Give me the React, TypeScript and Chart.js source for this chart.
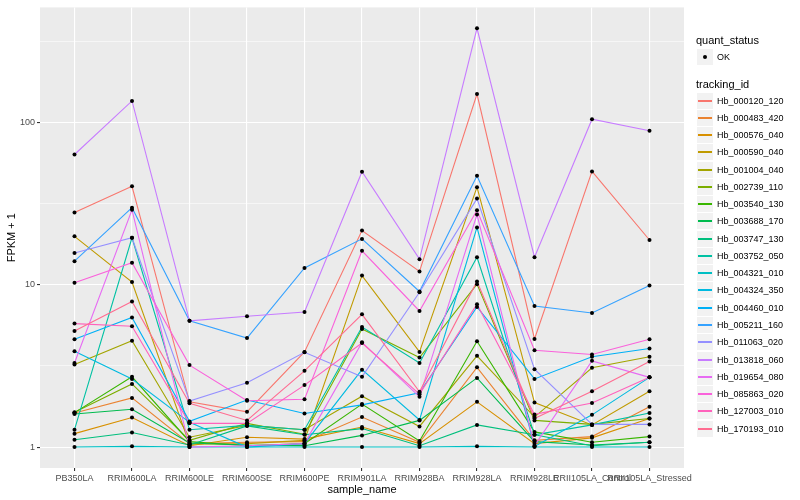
import React, { useEffect, useRef } from "react";
import { Chart, registerables } from "chart.js";

Chart.register(...registerables);

const categories = [
  "PB350LA", "RRIM600LA", "RRIM600LE", "RRIM600SE", "RRIM600PE", "RRIM901LA",
  "RRIM928BA", "RRIM928LA", "RRIM928LE", "RRII105LA_Control", "RRII105LA_Stressed",
];

const trackingIds = [
  "Hb_000120_120", "Hb_000483_420", "Hb_000576_040", "Hb_000590_040", "Hb_001004_040",
  "Hb_002739_110", "Hb_003540_130", "Hb_003688_170", "Hb_003747_130", "Hb_003752_050",
  "Hb_004321_010", "Hb_004324_350", "Hb_004460_010", "Hb_005211_160", "Hb_011063_020",
  "Hb_013818_060", "Hb_019654_080", "Hb_085863_020", "Hb_127003_010", "Hb_170193_010",
];

const lineColors = [
  "#F8766D", "#EA8331", "#D89000", "#C09B00", "#A3A500", "#7CAE00", "#39B600", "#00BB4E",
  "#00BF7D", "#00C1A3", "#00BFC4", "#00BAE0", "#00B0F6", "#35A2FF", "#9590FF", "#C77CFF",
  "#E76BF3", "#FA62DB", "#FF62BC", "#FF6C91",
];

// FPKM + 1 per sample, one array per tracking id
const hb000120_120 = [27.9, 40.5, 1.9, 1.65, 3.86, 21.6, 12.1, 150, 4.64, 50, 18.9];
const hb000483_420 = [1.62, 2.01, 1.05, 1.07, 1.08, 1.53, 1.07, 3.1, 1.1, 1.16, 1.77];
const hb000576_040 = [1.21, 1.52, 1.02, 1.15, 1.12, 1.33, 1.05, 1.9, 1.05, 1.14, 1.5];
const hb000590_040 = [19.9, 10.4, 1.04, 1.05, 1.1, 11.4, 3.86, 40, 1.88, 1.37, 2.21];
const hb001004_040 = [3.23, 4.53, 1.15, 1.36, 1.28, 2.06, 1.34, 3.65, 1.53, 3.08, 3.6];
const hb002739_110 = [1.64, 2.45, 1.1, 1.4, 1.2, 5.35, 3.56, 10.1, 1.46, 1.38, 1.5];
const hb003540_130 = [1.63, 2.71, 1.08, 1.02, 1.05, 1.84, 1.09, 4.49, 1.24, 1.07, 1.16];
const hb003688_170 = [1.6, 1.71, 1.06, 1.03, 1.02, 1.18, 1.46, 2.67, 1.08, 1.03, 1.07];
const hb003747_130 = [1.11, 1.23, 1.03, 1.35, 1.19, 1.3, 1.02, 1.37, 1.19, 1.02, 1.07];
const hb003752_050 = [1.28, 19.5, 1.28, 1.36, 1.28, 5.5, 3.3, 14.8, 1.19, 1.37, 1.62];
const hb004321_010 = [1.0, 1.01, 1.0, 1.0, 1.0, 1.0, 1.0, 1.01, 1.0, 1.0, 1.0];
const hb004324_350 = [3.9, 2.63, 1.42, 1.0, 1.05, 3.0, 1.47, 22.6, 1.01, 1.58, 2.69];
const hb004460_010 = [4.62, 6.3, 1.44, 1.95, 1.61, 1.82, 2.16, 7.3, 2.63, 3.6, 4.05];
const hb005211_160 = [14, 29.9, 6.0, 4.7, 12.7, 19.2, 9.1, 47, 7.4, 6.7, 9.9];
const hb011063_020 = [15.7, 19.5, 1.92, 2.49, 3.84, 2.71, 9.0, 34, 3.02, 1.38, 1.38];
const hb013818_060 = [63.6, 136, 6.0, 6.4, 6.8, 49.8, 14.4, 381, 14.8, 105, 89];
const hb019654_080 = [3.3, 29, 1.0, 1.02, 1.05, 4.42, 2.04, 27.1, 1.02, 3.4, 2.69];
const hb085863_020 = [10.3, 13.7, 3.2, 1.93, 1.97, 16.2, 6.9, 28.8, 3.95, 3.72, 4.62];
const hb127003_010 = [5.77, 5.55, 1.4, 1.4, 2.41, 4.38, 2.12, 7.6, 1.59, 1.87, 2.69];
const hb170193_010 = [5.2, 7.9, 1.86, 1.46, 2.95, 6.58, 2.19, 10.5, 1.5, 2.21, 3.37];

const seriesValues = [
  hb000120_120, hb000483_420, hb000576_040, hb000590_040, hb001004_040,
  hb002739_110, hb003540_130, hb003688_170, hb003747_130, hb003752_050,
  hb004321_010, hb004324_350, hb004460_010, hb005211_160, hb011063_020,
  hb013818_060, hb019654_080, hb085863_020, hb127003_010, hb170193_010,
];

const yMajorTicks = [1, 10, 100];
const yMinorTicks = [3.1623, 31.623, 316.23];
const yMin = 0.743;
const yMax = 513;

const FONT = "'Liberation Sans', Arial, Helvetica, sans-serif";

const panelBg = {
  id: "panelBg",
  beforeDraw(chart: any) {
    const { ctx, chartArea } = chart;
    ctx.save();
    ctx.fillStyle = "#EBEBEB";
    ctx.fillRect(chartArea.left, chartArea.top, chartArea.right - chartArea.left, chartArea.bottom - chartArea.top);
    ctx.restore();
  },
};

export default function App() {
  const ref = useRef<HTMLCanvasElement | null>(null);

  useEffect(() => {
    document.body.style.margin = "0";
    if (!ref.current) return;
    const lineSets = seriesValues.map((vals, i) => ({
      type: "line" as const,
      label: trackingIds[i],
      data: vals.map((v, j) => ({ x: j, y: v })),
      borderColor: lineColors[i],
      backgroundColor: lineColors[i],
      borderWidth: 1.1,
      pointRadius: 0,
      tension: 0,
      order: 100 - i,
    }));
    const pointSet = {
      type: "scatter" as const,
      label: "OK",
      data: seriesValues.flatMap((vals) => vals.map((v, j) => ({ x: j, y: v }))),
      backgroundColor: "#000000",
      borderColor: "#000000",
      borderWidth: 0,
      pointRadius: 2,
      showLine: false,
      order: 0,
    };
    const chart = new Chart(ref.current, {
      type: "line",
      data: { datasets: [...lineSets, pointSet] as any },
      plugins: [panelBg],
      options: {
        animation: false,
        responsive: false,
        devicePixelRatio: 1,
        layout: { padding: { top: 5, right: 116, left: 0, bottom: 0 } },
        plugins: { legend: { display: false }, tooltip: { enabled: false } },
        scales: {
          x: {
            type: "linear",
            min: -0.6,
            max: 10.6,
            bounds: "data",
            afterBuildTicks: (s: any) => {
              s.ticks = categories.map((_, i) => ({ value: i }));
            },
            afterFit: (s: any) => {
              s.height = 32;
            },
            border: { display: false },
            grid: { color: "#FFFFFF", lineWidth: 1.1, tickColor: "#333333", tickLength: 3 },
            ticks: {
              autoSkip: false,
              maxRotation: 0,
              minRotation: 0,
              padding: 2,
              color: "#4D4D4D",
              font: { family: FONT, size: 9 },
              callback: (v: any) => categories[v as number] ?? "",
            },
            title: {
              display: true,
              text: "sample_name",
              color: "#000000",
              font: { family: FONT, size: 11 },
              padding: { top: 0, bottom: 3 },
            },
          },
          y: {
            type: "logarithmic",
            min: yMin,
            max: yMax,
            bounds: "data",
            afterBuildTicks: (s: any) => {
              s.ticks = [...yMajorTicks, ...yMinorTicks].sort((a, b) => a - b).map((v) => ({ value: v }));
            },
            afterFit: (s: any) => {
              s.width = 40;
            },
            border: { display: false },
            grid: {
              color: "#FFFFFF",
              lineWidth: (c: any) => (yMajorTicks.includes(c.tick?.value) ? 1.1 : 0.55),
              tickColor: (c: any) => (yMajorTicks.includes(c.tick?.value) ? "#333333" : "rgba(0,0,0,0)"),
              tickLength: 3,
            },
            ticks: {
              padding: 2,
              color: "#4D4D4D",
              font: { family: FONT, size: 9 },
              callback: (v: any) => (yMajorTicks.includes(v as number) ? String(v) : ""),
            },
            title: {
              display: true,
              text: "FPKM + 1",
              color: "#000000",
              font: { family: FONT, size: 11 },
              padding: { top: 5, bottom: 0 },
            },
          },
        },
      },
    });
    return () => chart.destroy();
  }, []);

  const itemTop0 = 92.5;
  const itemStep = 17.27;

  return (
    <div style={{ position: "fixed", left: 0, top: 0, width: 800, height: 500, background: "#FFFFFF", fontFamily: FONT }}>
      <canvas ref={ref} width={800} height={500} style={{ position: "absolute", left: 0, top: 0, width: 800, height: 500 }} />
      <div style={{ position: "absolute", left: 696, top: 34, fontSize: 11, lineHeight: "13px", color: "#000" }}>quant_status</div>
      <div style={{ position: "absolute", left: 697, top: 49, width: 16, height: 16, background: "#F2F2F2" }}>
        <div style={{ position: "absolute", left: 6, top: 6, width: 4, height: 4, borderRadius: 2, background: "#000" }} />
      </div>
      <div style={{ position: "absolute", left: 717, top: 51, fontSize: 9, lineHeight: "12px", color: "#000" }}>OK</div>
      <div style={{ position: "absolute", left: 696, top: 78, fontSize: 11, lineHeight: "13px", color: "#000" }}>tracking_id</div>
      {trackingIds.map((id, i) => {
        const top = Math.round(itemTop0 + i * itemStep);
        return (
          <React.Fragment key={id}>
            <div style={{ position: "absolute", left: 697, top, width: 16, height: 16, background: "#F2F2F2" }}>
              <div style={{ position: "absolute", left: 1, right: 1, top: 7, height: 1.5, background: lineColors[i] }} />
            </div>
            <div style={{ position: "absolute", left: 717, top: top + 2, fontSize: 9, lineHeight: "12px", color: "#000", whiteSpace: "nowrap" }}>{id}</div>
          </React.Fragment>
        );
      })}
    </div>
  );
}
